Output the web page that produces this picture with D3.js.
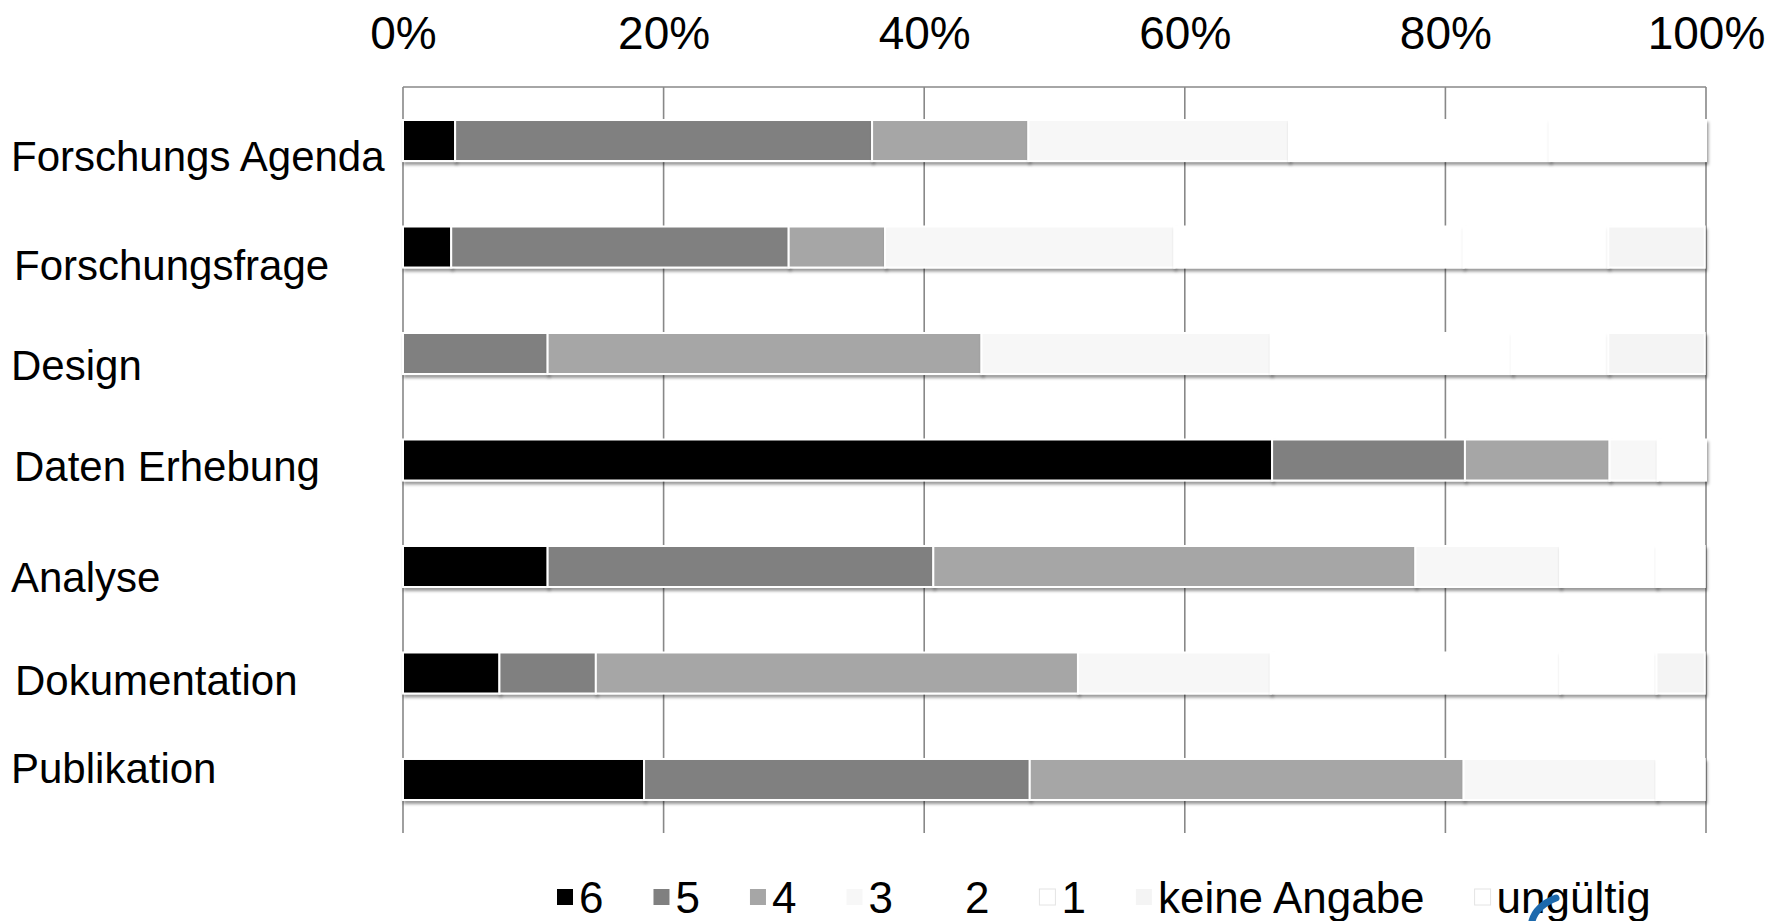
<!DOCTYPE html>
<html>
<head>
<meta charset="utf-8">
<script src="https://cdn.jsdelivr.net/npm/d3@7"></script>
<style>
  body { margin: 0; background: #fff; }
  text { font-family: "Liberation Sans", Arial, sans-serif; fill: #000; }
</style>
</head>
<body>
<div id="chart"></div>
<script>
//=========Data=========//
var categories = [
  "Forschungs Agenda",
  "Forschungsfrage",
  "Design",
  "Daten Erhebung",
  "Analyse",
  "Dokumentation",
  "Publikation",
];

var seriesNames = ["6", "5", "4", "3", "2", "1", "keine Angabe", "ungültig"];

// percent per category, one array per answer
var s6 = [4.0, 3.7, 0.0, 66.7, 11.1, 7.4, 18.5];
var s5 = [32.0, 25.9, 11.1, 14.8, 29.6, 7.4, 29.6];
var s4 = [12.0, 7.4, 33.3, 11.1, 37.0, 37.0, 33.3];
var s3 = [20.0, 22.2, 22.2, 3.7, 11.1, 14.8, 14.8];
var s2 = [20.0, 22.2, 18.5, 3.7, 7.4, 22.2, 3.7];
var s1 = [12.0, 11.1, 7.4, 0.0, 3.7, 7.4, 0.0];
var sKeine = [0.0, 7.4, 7.4, 0.0, 0.0, 3.7, 0.0];
var sUngueltig = [0.0, 0.0, 0.0, 0.0, 0.0, 0.0, 0.0];

var tickValues = [0, 20, 40, 60, 80, 100];

//=========Styles=========//
var colors = ["#000000", "#808080", "#a6a6a6", "#f7f7f7", "#ffffff", "#ffffff", "#f4f4f4", "#ffffff"];
var legendStroke = ["none", "none", "none", "none", "none", "#e4e4e4", "none", "#e4e4e4"];

// nudges for the hand placed category labels (text centre vs bar centre)
var labelDy = [16, 18, 12, 6, 11, 7, -11];
var labelX = [11, 14, 11, 14, 11, 15, 11];

//=========SVG Area=========//
var svgWidth = 1781;
var svgHeight = 921;

var svg = d3
  .select("#chart")
  .append("svg")
  .attr("width", svgWidth)
  .attr("height", svgHeight);

var defs = svg.append("defs");
var shadow = defs
  .append("filter")
  .attr("id", "shadow")
  .attr("x", "-5%")
  .attr("y", "-20%")
  .attr("width", "120%")
  .attr("height", "160%");
shadow
  .append("feDropShadow")
  .attr("dx", 1.5)
  .attr("dy", 3)
  .attr("stdDeviation", 1.8)
  .attr("flood-color", "#000")
  .attr("flood-opacity", 0.4);

// build table for the stack
var table = categories.map(function (c, i) {
  return {
    cat: c,
    "6": s6[i],
    "5": s5[i],
    "4": s4[i],
    "3": s3[i],
    "2": s2[i],
    "1": s1[i],
    "keine Angabe": sKeine[i],
    "ungültig": sUngueltig[i],
  };
});

var stacked = d3.stack().keys(seriesNames)(table);

//======Scales======//
var xScale = d3.scaleLinear().domain([0, 100]).range([403, 1706]);

var yScale = d3
  .scaleBand()
  .domain(categories)
  .range([87, 833])
  .paddingInner(0.615)
  .paddingOuter(0.31);

var colorScale = d3.scaleOrdinal().domain(seriesNames).range(colors);

//======Grid======//
var topAxis = d3
  .axisTop(xScale)
  .tickValues(tickValues)
  .tickSize(0)
  .tickPadding(38)
  .tickFormat((d) => d + "%");

var gridGroup = svg.append("g");

gridGroup
  .selectAll("line")
  .data(tickValues)
  .enter()
  .append("line")
  .attr("x1", (d) => xScale(d))
  .attr("x2", (d) => xScale(d))
  .attr("y1", 87)
  .attr("y2", 833)
  .attr("stroke", "#888")
  .attr("stroke-width", 1.6);

// top border line
gridGroup
  .append("line")
  .attr("x1", xScale(0))
  .attr("x2", xScale(100))
  .attr("y1", 87)
  .attr("y2", 87)
  .attr("stroke", "#888")
  .attr("stroke-width", 1.6);

var xAxis = svg
  .append("g")
  .attr("transform", "translate(0, 87)")
  .call(topAxis);

xAxis.select(".domain").remove();
xAxis
  .selectAll("text")
  .style("font-family", '"Liberation Sans", Arial, sans-serif')
  .style("font-size", "46px")
  .attr("fill", "#000");

//======Bars======//
var barGroups = svg
  .append("g")
  .selectAll("g")
  .data(stacked)
  .enter()
  .append("g")
  .attr("fill", (d) => colorScale(d.key));

barGroups
  .selectAll("rect")
  .data((d) => d)
  .enter()
  .filter((d) => d[1] - d[0] > 0)
  .append("rect")
  .attr("x", (d) => xScale(d[0]))
  .attr("y", (d) => yScale(d.data.cat))
  .attr("width", (d) => xScale(d[1]) - xScale(d[0]))
  .attr("height", yScale.bandwidth())
  .attr("stroke", "#fff")
  .attr("stroke-width", 2)
  .attr("filter", "url(#shadow)");

//======Category labels======//
svg
  .append("g")
  .selectAll("text")
  .data(categories)
  .enter()
  .append("text")
  .attr("x", (d, i) => labelX[i])
  .attr("y", (d, i) => yScale(d) + yScale.bandwidth() / 2 + labelDy[i])
  .attr("dy", "0.35em")
  .style("font-size", "42px")
  .text((d) => d);

//======Legend======//
var legend = svg.append("g").attr("transform", "translate(557, 897)");
var legendX = 0;
seriesNames.forEach(function (name, i) {
  var item = legend.append("g").attr("transform", `translate(${legendX}, 0)`);
  item
    .append("rect")
    .attr("x", 0)
    .attr("y", -8)
    .attr("width", 16)
    .attr("height", 16)
    .attr("fill", colors[i])
    .attr("stroke", legendStroke[i])
    .attr("stroke-width", 1);
  var label = item
    .append("text")
    .attr("x", 22)
    .attr("dy", "0.36em")
    .style("font-size", "44px")
    .text(name);
  legendX += 22 + label.node().getComputedTextLength() + 50;
});

// corner of the logo that peeks in at the bottom
svg
  .append("path")
  .attr("d", "M1532,921 Q1536,906 1556,898")
  .attr("fill", "none")
  .attr("stroke", "#1c69ad")
  .attr("stroke-width", 7)
  .attr("stroke-linecap", "round");
</script>
</body>
</html>
